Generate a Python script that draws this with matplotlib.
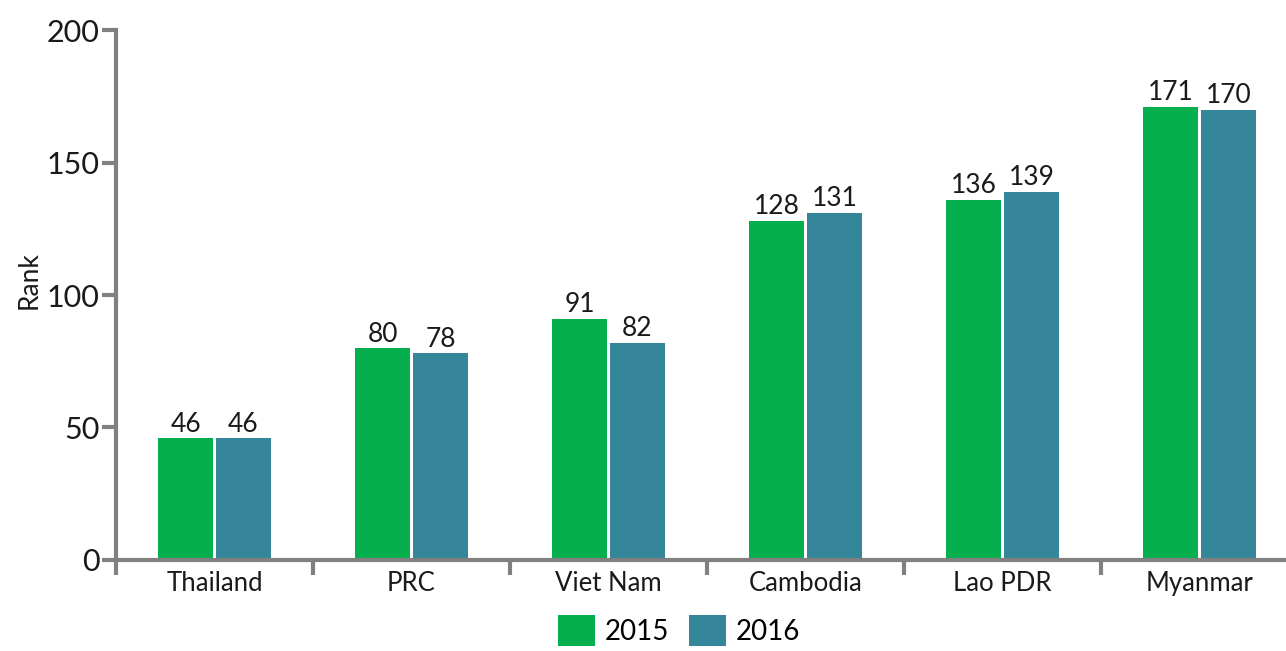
import matplotlib
matplotlib.use("Agg")
import matplotlib.pyplot as plt
import numpy as np
from matplotlib.patches import Patch

countries = ["Thailand", "PRC", "Viet Nam", "Cambodia", "Lao PDR", "Myanmar"]
rank_2015 = [46, 80, 91, 128, 136, 171]
rank_2016 = [46, 78, 82, 131, 139, 170]
series_labels = ["2015", "2016"]
colors = ["#06AF4E", "#35869B"]

plt.rcParams["font.family"] = ["Lato", "DejaVu Sans"]

fig = plt.figure(figsize=(12.86, 6.51), dpi=100)
ax = fig.add_axes([0.0902, 0.1398, 0.9191, 0.8141])

x = np.arange(len(countries))
w = 0.275
off = 0.147
b1 = ax.bar(x - off, rank_2015, w, color=colors[0], zorder=2)
b2 = ax.bar(x + off, rank_2016, w, color=colors[1], zorder=2)

for bars, vals in ((b1, rank_2015), (b2, rank_2016)):
    for bar, v in zip(bars, vals):
        ax.annotate(str(v), (bar.get_x() + bar.get_width() / 2, v),
                    xytext=(0, 1), textcoords="offset points",
                    ha="center", va="bottom", fontsize=19, color="#1a1a1a")

ax.set_xlim(-0.5, len(countries) - 0.5)
ax.set_ylim(0, 200)
ax.set_yticks([0, 50, 100, 150, 200])
ax.set_xticks(np.arange(len(countries) + 1) - 0.5)
ax.set_xticklabels([])
ax.set_xticks(x, minor=True)
ax.set_xticklabels(countries, minor=True)

spine_c = "#808080"
for s in ("top", "right"):
    ax.spines[s].set_visible(False)
for s in ("left", "bottom"):
    ax.spines[s].set_color(spine_c)
    ax.spines[s].set_linewidth(3)

ax.tick_params(axis="y", which="major", length=10, width=3, color=spine_c,
               labelsize=22, labelcolor="#1a1a1a", pad=2)
ax.tick_params(axis="x", which="major", length=11, width=3, color=spine_c)
ax.tick_params(axis="x", which="minor", length=0, labelsize=18.5,
               labelcolor="#1a1a1a", pad=8)

ax.set_ylabel("Rank", fontsize=19, color="#1a1a1a")
ax.yaxis.set_label_coords(-0.063, 0.528)

handles = [Patch(facecolor=c) for c in colors]
fig.legend(handles, series_labels, loc="lower center",
           bbox_to_anchor=(0.528, -0.03), ncol=2, frameon=False,
           fontsize=20, handlelength=1.35, handleheight=1.3,
           handletextpad=0.35, columnspacing=0.7)

fig.savefig("out.png", dpi=100)
